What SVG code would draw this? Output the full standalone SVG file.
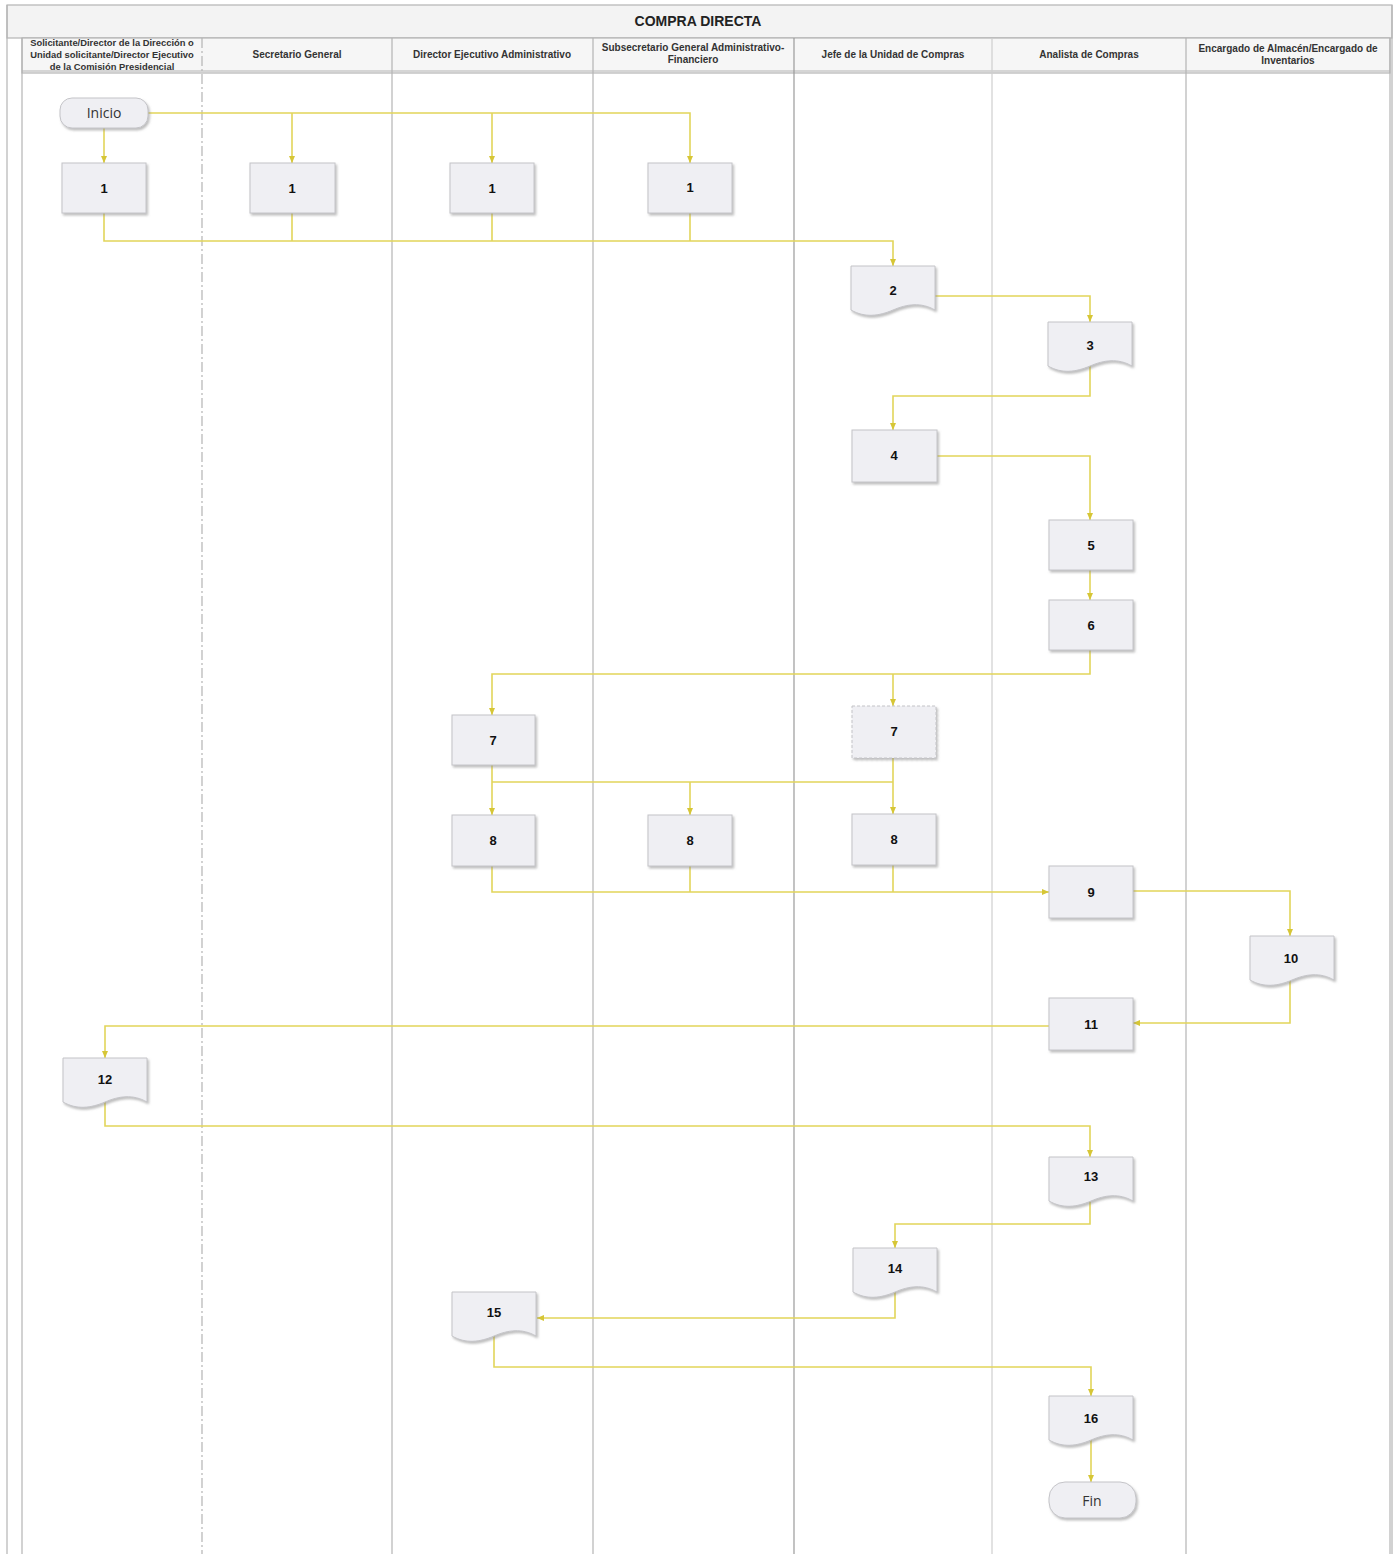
<svg xmlns="http://www.w3.org/2000/svg" xmlns:xlink="http://www.w3.org/1999/xlink" width="1399" height="1554" viewBox="0 0 1399 1554">
<style>
.lane{stroke:#b4b4b4;stroke-width:1.2;fill:none}
.hdr{font-family:"Liberation Sans",Arial,sans-serif;font-size:10px;font-weight:bold;fill:#333;text-anchor:middle}
.hdr1{font-family:"Liberation Sans",Arial,sans-serif;font-size:9.4px;font-weight:bold;fill:#333;text-anchor:middle}
.title{font-family:"Liberation Sans",Arial,sans-serif;font-size:14px;font-weight:bold;fill:#222;text-anchor:middle}
.box{fill:#efeff3;stroke:#c4c4c8;stroke-width:1;filter:url(#sh)}
.num{font-family:"Liberation Sans",Arial,sans-serif;font-size:13px;font-weight:bold;fill:#111;text-anchor:middle}
.term{font-family:"Open Sans","Liberation Sans",sans-serif;font-size:14px;fill:#333;text-anchor:middle}
.con{fill:none;stroke:#e2d55a;stroke-width:1.6}
.arr{fill:none;stroke:#e2d55a;stroke-width:1.6;marker-end:url(#ah)}
</style>
<defs>
<filter id="sh" x="-10%" y="-10%" width="130%" height="140%">
<feDropShadow dx="1.5" dy="2" stdDeviation="1.2" flood-color="#888" flood-opacity="0.55"/>
</filter>
<marker id="ah" markerWidth="8" markerHeight="8" refX="7" refY="4" orient="auto" markerUnits="userSpaceOnUse">
<path d="M0,1 L7,4 L0,7 z" fill="#d6c636"/>
</marker>
<path id="doc" d="M0,0 h84 v44 c-14,-8 -28,-6 -42,0 c-14,6 -28,8 -42,0 z"/>
</defs>
<rect x="0" y="0" width="1399" height="1554" fill="#ffffff"/>
<rect x="7" y="5" width="1385" height="33" fill="#f3f3f3" stroke="#b4b4b4" stroke-width="1.2"/>
<rect x="22" y="38" width="1368" height="35" fill="#f6f6f6" stroke="#b4b4b4" stroke-width="1.2"/>
<line x1="22" y1="71" x2="1390" y2="71" class="lane"/>
<text x="698" y="26" class="title">COMPRA DIRECTA</text>
<g id="lanes">
<line x1="7" y1="5" x2="7" y2="1554" class="lane"/>
<line x1="22" y1="38" x2="22" y2="1554" class="lane"/>
<line x1="202" y1="38" x2="202" y2="1554" class="lane" stroke-dasharray="10 3 2 3"/>
<line x1="392" y1="38" x2="392" y2="1554" class="lane"/>
<line x1="593" y1="38" x2="593" y2="1554" class="lane"/>
<line x1="794" y1="38" x2="794" y2="1554" class="lane" style="stroke:#9a9a9a"/>
<line x1="992" y1="38" x2="992" y2="1554" class="lane" style="stroke:#cfcfcf"/>
<line x1="1186" y1="38" x2="1186" y2="1554" class="lane"/>
<line x1="1390" y1="38" x2="1390" y2="1554" class="lane"/>
<line x1="1392" y1="5" x2="1392" y2="1554" class="lane"/>
</g>
<g id="headers">
<text class="hdr1" x="112" y="46">Solicitante/Director de la Dirección o</text>
<text class="hdr1" x="112" y="58">Unidad solicitante/Director Ejecutivo</text>
<text class="hdr1" x="112" y="70">de la Comisión Presidencial</text>
<text class="hdr" x="297" y="58">Secretario General</text>
<text class="hdr" x="492" y="58">Director Ejecutivo Administrativo</text>
<text class="hdr" x="693" y="51">Subsecretario General Administrativo-</text>
<text class="hdr" x="693" y="63">Financiero</text>
<text class="hdr" x="893" y="58">Jefe de la Unidad de Compras</text>
<text class="hdr" x="1089" y="58">Analista de Compras</text>
<text class="hdr" x="1288" y="52">Encargado de Almacén/Encargado de</text>
<text class="hdr" x="1288" y="64">Inventarios</text>
</g>
<g id="connectors">
<path class="arr" d="M104,128 V163"/>
<path class="arr" d="M148,113 H690 V163"/>
<path class="arr" d="M292,113 V163"/>
<path class="arr" d="M492,113 V163"/>
<path class="arr" d="M104,213 V241 H893 V266"/>
<path class="con" d="M292,213 V241"/>
<path class="con" d="M492,213 V241"/>
<path class="con" d="M690,213 V241"/>
<path class="arr" d="M935,296 H1090 V322"/>
<path class="arr" d="M1090,366 V396 H893 V430"/>
<path class="arr" d="M937,456 H1090 V520"/>
<path class="arr" d="M1090,570 V600"/>
<path class="arr" d="M1090,650 V674 H492 V715"/>
<path class="arr" d="M893,674 V706"/>
<path class="arr" d="M492,765 V815"/>
<path class="con" d="M492,782 H893"/>
<path class="arr" d="M690,782 V815"/>
<path class="arr" d="M893,758 V814"/>
<path class="arr" d="M492,866 V892 H1049"/>
<path class="con" d="M690,866 V892"/>
<path class="con" d="M893,865 V892"/>
<path class="arr" d="M1133,891 H1290 V936"/>
<path class="arr" d="M1290,980 V1023 H1133"/>
<path class="arr" d="M1049,1026 H105 V1058"/>
<path class="arr" d="M105,1100 V1126 H1090 V1157"/>
<path class="arr" d="M1090,1200 V1224 H895 V1248"/>
<path class="arr" d="M895,1292 V1318 H537"/>
<path class="arr" d="M494,1336 V1367 H1091 V1396"/>
<path class="arr" d="M1091,1440 V1482"/>
</g>
<g id="n-inicio"><rect class="box" x="60" y="98" width="88" height="30" rx="12"/><text class="term" x="104" y="118">Inicio</text></g>
<g id="n1a"><rect class="box" x="62" y="163" width="84" height="50"/><text class="num" x="104" y="193">1</text></g>
<g id="n1b"><rect class="box" x="250" y="163" width="85" height="50"/><text class="num" x="292" y="193">1</text></g>
<g id="n1c"><rect class="box" x="450" y="163" width="84" height="50"/><text class="num" x="492" y="193">1</text></g>
<g id="n1d"><rect class="box" x="648" y="163" width="84" height="50"/><text class="num" x="690" y="192">1</text></g>
<g id="n2"><use href="#doc" class="box" x="851" y="266"/><text class="num" x="893" y="295">2</text></g>
<g id="n3"><use href="#doc" class="box" x="1048" y="322"/><text class="num" x="1090" y="350">3</text></g>
<g id="n4"><rect class="box" x="852" y="430" width="85" height="52"/><text class="num" x="894" y="460">4</text></g>
<g id="n5"><rect class="box" x="1049" y="520" width="84" height="50"/><text class="num" x="1091" y="550">5</text></g>
<g id="n6"><rect class="box" x="1049" y="600" width="84" height="50"/><text class="num" x="1091" y="630">6</text></g>
<g id="n7a"><rect class="box" x="452" y="715" width="83" height="50"/><text class="num" x="493" y="745">7</text></g>
<g id="n7b"><rect class="box" x="852" y="706" width="84" height="52" stroke-dasharray="3 2"/><text class="num" x="894" y="736">7</text></g>
<g id="n8a"><rect class="box" x="452" y="815" width="83" height="51"/><text class="num" x="493" y="845">8</text></g>
<g id="n8b"><rect class="box" x="648" y="815" width="84" height="51"/><text class="num" x="690" y="845">8</text></g>
<g id="n8c"><rect class="box" x="852" y="814" width="84" height="51"/><text class="num" x="894" y="844">8</text></g>
<g id="n9"><rect class="box" x="1049" y="866" width="84" height="52"/><text class="num" x="1091" y="897">9</text></g>
<g id="n10"><use href="#doc" class="box" x="1250" y="936"/><text class="num" x="1291" y="963">10</text></g>
<g id="n11"><rect class="box" x="1049" y="998" width="84" height="52"/><text class="num" x="1091" y="1029">11</text></g>
<g id="n12"><use href="#doc" class="box" x="63" y="1058"/><text class="num" x="105" y="1084">12</text></g>
<g id="n13"><use href="#doc" class="box" x="1049" y="1157"/><text class="num" x="1091" y="1181">13</text></g>
<g id="n14"><use href="#doc" class="box" x="853" y="1248"/><text class="num" x="895" y="1273">14</text></g>
<g id="n15"><use href="#doc" class="box" x="452" y="1292"/><text class="num" x="494" y="1317">15</text></g>
<g id="n16"><use href="#doc" class="box" x="1049" y="1396"/><text class="num" x="1091" y="1423">16</text></g>
<g id="n-fin"><rect class="box" x="1049" y="1482" width="87" height="36" rx="16"/><text class="term" x="1092" y="1506">Fin</text></g>
</svg>
